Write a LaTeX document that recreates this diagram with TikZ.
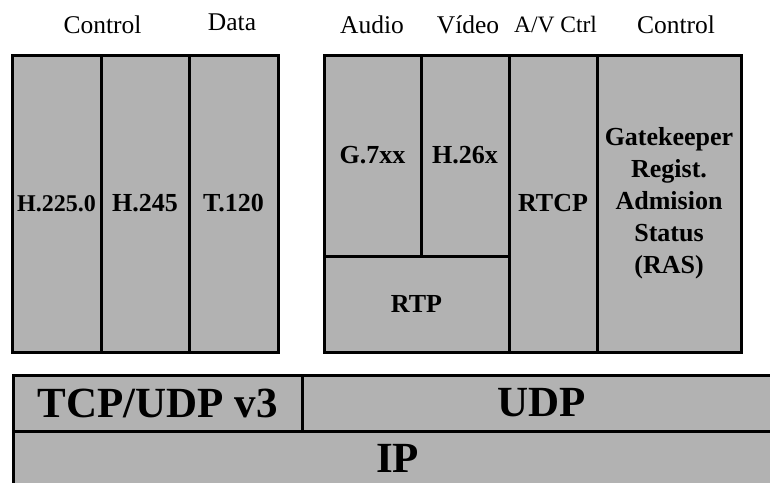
\documentclass[tikz,border=0pt]{standalone}
\usepackage{fontspec}
\setmainfont{Liberation Serif}
\definecolor{cellgray}{RGB}{178,178,178}
\tikzset{
  cell/.style={draw=black, fill=cellgray, line width=3pt, inner sep=0pt, outer sep=0pt,
    align=center, font=\fontsize{26}{32}\selectfont\bfseries},
  big/.style={cell, font=\fontsize{43}{50}\selectfont\bfseries},
  head/.style={anchor=base, inner sep=0pt, font=\fontsize{25.5}{30}\selectfont},
}
\begin{document}
\begin{tikzpicture}[x=1pt, y=-1pt]
\useasboundingbox (0,0) rectangle (770,482);
\clip (0,0) rectangle (770,482);
% headers
\node[head] (hctrl) at (102.5,33) {Control};
\node[head] (hdata) at (232,30.5) {Data};
\node[head] (haudio) at (372,33) {Audio};
\node[head] (hvideo) at (468,33) {Vídeo};
\node[head, font=\fontsize{23.5}{28}\selectfont] (hav) at (555.5,32) {A/V Ctrl};
\node[head] (hctrl2) at (676,33) {Control};
% left group
\node[cell, minimum width=89pt, minimum height=297pt, font=\fontsize{24}{30}\selectfont\bfseries] (h225) at (56.5,203.5) {H.225.0};
\node[cell, minimum width=88pt, minimum height=297pt] (h245) at (145,203.5) {H.245};
\node[cell, minimum width=89pt, minimum height=297pt] (t120) at (233.5,203.5) {T.120};
% right group
\node[cell, minimum width=97pt, minimum height=201pt] (g7xx) at (372.5,155.5) {G.7xx};
\node[cell, minimum width=88pt, minimum height=201pt] (h26x) at (465,155.5) {H.26x};
\node[cell, minimum width=185pt, minimum height=96pt] (rtp) at (416.5,304) {RTP};
\node[cell, minimum width=88pt, minimum height=297pt] (rtcp) at (553,203.5) {RTCP};
\node[cell, minimum width=144pt, minimum height=297pt] (ras) at (669,203.5) {Gatekeeper\\Regist.\\Admision\\Status\\(RAS)};
% bottom layers
\node[big, minimum width=769pt, minimum height=55pt] (ip) at (397.5,458.5) {IP};
\node[big, minimum width=289pt, minimum height=56pt] (tcp) at (157.5,403) {TCP/UDP v3};
\node[big, minimum width=480pt, minimum height=56pt] (udp) at (542,403) {UDP};
\end{tikzpicture}
\end{document}
